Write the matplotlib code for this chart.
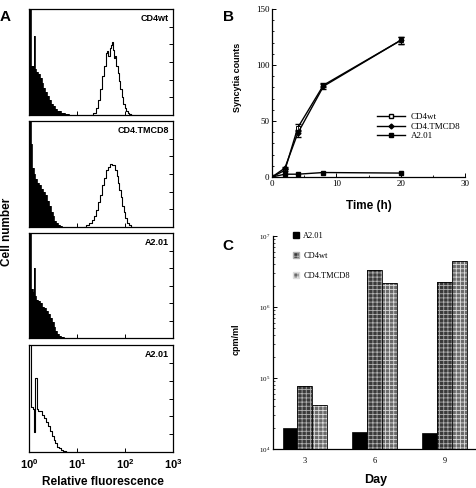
import numpy as np
import matplotlib
matplotlib.use("Agg")
import matplotlib.pyplot as plt
from matplotlib.lines import Line2D
from matplotlib.patches import Patch
from matplotlib.ticker import MultipleLocator, LogLocator, NullFormatter

plt.rcParams['font.family'] = 'Liberation Serif'
plt.rcParams['mathtext.fontset'] = 'custom'
plt.rcParams['mathtext.rm'] = 'Liberation Serif'
plt.rcParams['mathtext.bf'] = 'Liberation Sans:bold'
plt.rcParams['hatch.linewidth'] = 0.6

SANS = 'Liberation Sans'

# ---- Panel A: flow cytometry histograms (log10 fluorescence, counts) ----
wt_ctrl_log = [0.0, 0.03, 0.06, 0.09, 0.115, 0.13, 0.16, 0.20, 0.24, 0.28, 0.32, 0.36,
               0.40, 0.44, 0.48, 0.52, 0.56, 0.60, 0.64, 0.68, 0.72, 0.76, 0.80, 0.85]
wt_ctrl_cnt = [125, 125, 56, 55, 89, 52, 49, 46, 42, 36, 31, 26,
               22, 17, 13, 10, 7, 5, 4, 2, 2, 1, 1, 0]
wt_pos_log = [1.30, 1.36, 1.42, 1.46, 1.50, 1.54, 1.58, 1.61, 1.64, 1.67, 1.69, 1.72, 1.74,
              1.76, 1.78, 1.80, 1.83, 1.86, 1.89, 1.92, 1.95, 1.98, 2.01, 2.04, 2.07, 2.10, 2.14]
wt_pos_cnt = [0, 2, 8, 17, 29, 44, 56, 70, 72, 67, 76, 79, 83,
              74, 65, 67, 56, 48, 38, 29, 20, 13, 8, 5, 2, 1, 0]

tm_ctrl_log = [0.0, 0.03, 0.05, 0.08, 0.11, 0.15, 0.19, 0.23, 0.27, 0.31,
               0.35, 0.39, 0.43, 0.47, 0.51, 0.55, 0.59, 0.63, 0.67, 0.72]
tm_ctrl_cnt = [125, 125, 94, 67, 60, 54, 50, 47, 43, 40,
               36, 30, 24, 17, 12, 7, 5, 2, 1, 0]
tm_pos_log = [1.15, 1.22, 1.28, 1.33, 1.38, 1.42, 1.46, 1.50, 1.54, 1.58, 1.62, 1.66, 1.70,
              1.74, 1.78, 1.81, 1.84, 1.87, 1.90, 1.93, 1.96, 1.99, 2.02, 2.06, 2.10, 2.14]
tm_pos_cnt = [0, 2, 5, 8, 13, 19, 28, 36, 48, 56, 65, 68, 71,
              70, 70, 65, 58, 50, 42, 34, 24, 17, 10, 5, 2, 0]

a2_ctrl_log = [0.0, 0.03, 0.06, 0.09, 0.12, 0.14, 0.17, 0.21, 0.25, 0.29, 0.33,
               0.37, 0.41, 0.45, 0.49, 0.53, 0.57, 0.61, 0.65, 0.70, 0.75]
a2_ctrl_cnt = [125, 125, 56, 53, 80, 48, 44, 42, 40, 36, 34,
               31, 28, 23, 18, 13, 8, 5, 2, 1, 0]
a2_line_log = [0.0, 0.03, 0.06, 0.09, 0.12, 0.145, 0.17, 0.21, 0.25, 0.29, 0.33,
               0.37, 0.41, 0.45, 0.49, 0.53, 0.57, 0.61, 0.65, 0.69, 0.74, 0.80]
a2_line_cnt = [125, 125, 50, 48, 22, 83, 48, 46, 46, 42, 38,
               34, 29, 23, 18, 13, 10, 6, 4, 2, 1, 0]

# ---- Panel B: syncytia over time ----
time_h = [0, 2, 4, 8, 20]
syn_wt = [0, 6, 44, 82, 122]
syn_tm = [0, 8, 39, 81, 122]
syn_a2 = [0, 2.5, 2.5, 4, 3.5]
syn_err = [0, 1, 3, 2, 3]

# ---- Panel C: cpm/ml per day ----
days = ['3', '6', '9']
cpm_a2 = [1.98e4, 1.74e4, 1.68e4]
cpm_wt = [7.7e4, 3.3e6, 2.25e6]
cpm_tm = [4.2e4, 2.2e6, 4.4e6]

fig = plt.figure(figsize=(4.76, 4.88), dpi=100)
W, H = 476.0, 488.0


def px_axes(x0, y0, x1, y1):
    return fig.add_axes([x0 / W, 1 - y1 / H, (x1 - x0) / W, (y1 - y0) / H])


def hist_panel(ax, label):
    ax.set_xscale('log')
    ax.set_xlim(1, 1000)
    ax.set_ylim(0, 120)
    ax.yaxis.tick_right()
    ax.set_yticks([20, 40, 60, 80, 100])
    ax.set_yticklabels([])
    ax.set_xticks([10, 100])
    ax.xaxis.set_minor_locator(plt.NullLocator())
    ax.set_xticklabels([])
    ax.tick_params(direction='in', length=3, width=0.7)
    for s in ax.spines.values():
        s.set_linewidth(0.9)
    ax.text(0.97, 0.95, label, transform=ax.transAxes, ha='right', va='top',
            fontsize=6.5, fontweight='bold', family=SANS)


panels = [(9, 115), (121, 227), (233, 338), (345, 452)]
axA = [px_axes(29, y0, 173, y1) for y0, y1 in panels]

def filled(ax, lg, cnt):
    x = 10 ** np.array(lg)
    ax.fill_between(x, cnt, step='mid', color='black', lw=0)
    ax.step(x, cnt, where='mid', color='black', lw=0.6)

def outline(ax, lg, cnt):
    ax.step(10 ** np.array(lg), cnt, where='mid', color='black', lw=0.8)

filled(axA[0], wt_ctrl_log, wt_ctrl_cnt)
outline(axA[0], wt_pos_log, wt_pos_cnt)
hist_panel(axA[0], 'CD4wt')
filled(axA[1], tm_ctrl_log, tm_ctrl_cnt)
outline(axA[1], tm_pos_log, tm_pos_cnt)
hist_panel(axA[1], 'CD4.TMCD8')
filled(axA[2], a2_ctrl_log, a2_ctrl_cnt)
hist_panel(axA[2], 'A2.01')
outline(axA[3], a2_line_log, a2_line_cnt)
hist_panel(axA[3], 'A2.01')
axA[3].set_xticks([1, 10, 100, 1000])
axA[3].set_xticklabels([r'$\mathbf{10^{0}}$', r'$\mathbf{10^{1}}$',
                        r'$\mathbf{10^{2}}$', r'$\mathbf{10^{3}}$'], fontsize=8)
axA[3].tick_params(axis='x', pad=4)

fig.text(103 / W, 1 - 482 / H, 'Relative fluorescence', ha='center', va='center',
         fontsize=8.5, fontweight='bold', family=SANS)
fig.text(7 / W, 1 - 232 / H, 'Cell number', ha='center', va='center', rotation=90,
         fontsize=8.5, fontweight='bold', family=SANS)

# ---- Panel B ----
axB = px_axes(272, 9, 465, 177)
axB.plot(time_h, syn_wt, color='black', lw=1.0, marker='s', ms=3, mfc='white', mec='black', mew=0.7)
axB.plot(time_h, syn_tm, color='black', lw=1.0, marker='D', ms=2.5)
axB.plot(time_h, syn_a2, color='black', lw=1.0, marker='s', ms=3)
axB.errorbar(time_h, syn_wt, yerr=syn_err, fmt='none', ecolor='black', elinewidth=0.6, capsize=2)
axB.errorbar(time_h, syn_tm, yerr=syn_err, fmt='none', ecolor='black', elinewidth=0.6, capsize=2)
axB.set_xlim(0, 30)
axB.set_ylim(0, 150)
axB.set_xticks([0, 10, 20, 30])
axB.set_yticks([0, 50, 100, 150])
axB.xaxis.set_minor_locator(MultipleLocator(5))
axB.yaxis.set_minor_locator(MultipleLocator(10))
axB.tick_params(direction='in', length=3, width=0.7, labelsize=6.5, pad=2)
axB.tick_params(which='minor', direction='in', length=1.5, width=0.6)
axB.spines['top'].set_visible(False)
axB.spines['right'].set_visible(False)
for s in ['left', 'bottom']:
    axB.spines[s].set_linewidth(0.9)
hB = [Line2D([], [], color='black', lw=1.0, marker='s', ms=3, mfc='white', mec='black'),
      Line2D([], [], color='black', lw=1.0, marker='D', ms=2.5),
      Line2D([], [], color='black', lw=1.0, marker='s', ms=3)]
axB.legend(hB, ['CD4wt', 'CD4.TMCD8', 'A2.01'], loc='upper left', bbox_to_anchor=(0.545, 0.38),
           frameon=False, fontsize=6.5, handlelength=3.1, handletextpad=0.6,
           labelspacing=0.1, borderpad=0, borderaxespad=0)
fig.text(238 / W, 1 - 77 / H, 'Syncytia counts', ha='center', va='center', rotation=90,
         fontsize=6.5, fontweight='bold', family=SANS)
fig.text(369 / W, 1 - 206 / H, 'Time (h)', ha='center', va='center',
         fontsize=8.5, fontweight='bold', family=SANS)

# ---- Panel C ----
axC = px_axes(273, 236, 475, 449)
pos = np.arange(len(days))
bw = 0.214
axC.bar(pos - bw, cpm_a2, bw, color='black', edgecolor='black', lw=0.5)
axC.bar(pos, cpm_wt, bw, color='#3a3a3a', edgecolor='#b0b0b0', hatch='++++', lw=0)
axC.bar(pos, cpm_wt, bw, fill=False, edgecolor='black', lw=0.6)
axC.bar(pos + bw, cpm_tm, bw, color='#6a6a6a', edgecolor='#dddddd', hatch='++++', lw=0)
axC.bar(pos + bw, cpm_tm, bw, fill=False, edgecolor='black', lw=0.6)
axC.set_yscale('log')
axC.set_ylim(1e4, 1e7)
axC.set_xlim(-0.457, 2.43)
axC.set_xticks(pos)
axC.set_xticklabels(days)
axC.set_yticks([1e4, 1e5, 1e6, 1e7])
axC.set_yticklabels([r'$\mathrm{10^{4}}$', r'$\mathrm{10^{5}}$', r'$\mathrm{10^{6}}$', r'$\mathrm{10^{7}}$'])
axC.yaxis.set_minor_locator(LogLocator(base=10, subs=np.arange(2, 10)))
axC.yaxis.set_minor_formatter(NullFormatter())
axC.tick_params(axis='y', direction='in', length=3, width=0.7, labelsize=5, pad=2)
axC.tick_params(axis='y', which='minor', direction='in', length=1.5, width=0.5)
axC.tick_params(axis='x', length=0, labelsize=6, pad=6)
axC.spines['top'].set_visible(False)
axC.spines['right'].set_visible(False)
for s in ['left', 'bottom']:
    axC.spines[s].set_linewidth(0.9)
hC = [Patch(facecolor='black', edgecolor='black'),
      Patch(facecolor='#3a3a3a', edgecolor='#b0b0b0', hatch='++++'),
      Patch(facecolor='#6a6a6a', edgecolor='#dddddd', hatch='++++')]
axC.legend(hC, ['A2.01', 'CD4wt', 'CD4.TMCD8'], loc='upper left', bbox_to_anchor=(0.10, 1.02),
           frameon=False, fontsize=6, handlelength=0.7, handleheight=0.7, handletextpad=0.5,
           labelspacing=1.45, borderpad=0, borderaxespad=0)
fig.text(236.5 / W, 1 - 339 / H, 'cpm/ml', ha='center', va='center', rotation=90,
         fontsize=6.5, fontweight='bold', family=SANS)
fig.text(376 / W, 1 - 480 / H, 'Day', ha='center', va='center',
         fontsize=9, fontweight='bold', family=SANS)

# panel letters
for lx, ly, t in [(5, 17, 'A'), (228, 17, 'B'), (228, 246, 'C')]:
    fig.text(lx / W, 1 - ly / H, t, ha='center', va='center', fontsize=11,
             fontweight='bold', family=SANS)

fig.savefig('out.png', dpi=100)
